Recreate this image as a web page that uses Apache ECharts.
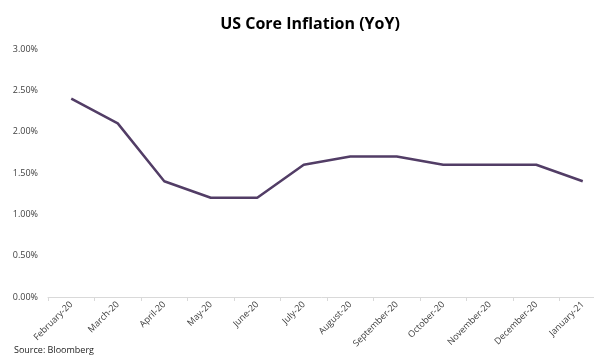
<!DOCTYPE html>
<html><head><meta charset="utf-8">
<script src="https://cdn.jsdelivr.net/npm/echarts@6/dist/echarts.min.js"></script>
<style>html,body{margin:0;padding:0;background:#fff}#c{width:594px;height:358px}</style>
</head><body><div id="c"></div>
<script>
const categories = ["February-20","March-20","April-20","May-20","June-20","July-20","August-20","September-20","October-20","November-20","December-20","January-21"];
const coreInflation = [2.4, 2.1, 1.4, 1.2, 1.2, 1.6, 1.7, 1.7, 1.6, 1.6, 1.6, 1.4];
const yTicks = [0, 0.5, 1.0, 1.5, 2.0, 2.5, 3.0];

const chart = echarts.init(document.getElementById('c'), null, {renderer:'canvas'});
chart.setOption({
  animation:false,
  backgroundColor:'#fff',
  title:{text:'US Core Inflation (YoY)', left:305, top:11, textAlign:'center',
    textStyle:{fontFamily:'Open Sans', fontWeight:'bold', fontSize:16, color:'#000'}},
  graphic:[{type:'text', left:14, top:346, style:{text:'Source: Bloomberg', fontFamily:'Open Sans', fontSize:9, fill:'#222'}}],
  grid:{left:48, top:49, width:558, height:248, containLabel:false, outerBoundsMode:'none'},
  xAxis:{type:'category', data:categories, boundaryGap:true,
    axisLine:{lineStyle:{color:'#d9d9d9', width:1}},
    axisTick:{show:true, length:4, lineStyle:{color:'#d9d9d9'}},
    axisLabel:{rotate:45, interval:0, fontFamily:'Open Sans', fontSize:9, color:'#404040', margin:6}},
  yAxis:{type:'value', min:yTicks[0], max:yTicks[yTicks.length-1], interval:0.5,
    axisLine:{show:false}, axisTick:{show:false}, splitLine:{show:false},
    axisLabel:{formatter:v=>v.toFixed(2)+'%', fontFamily:'Open Sans', fontSize:9, color:'#404040', margin:10}},
  series:[{type:'line', data:coreInflation, symbol:'none', lineStyle:{color:'#523d66', width:2.5}}]
});
</script></body></html>
